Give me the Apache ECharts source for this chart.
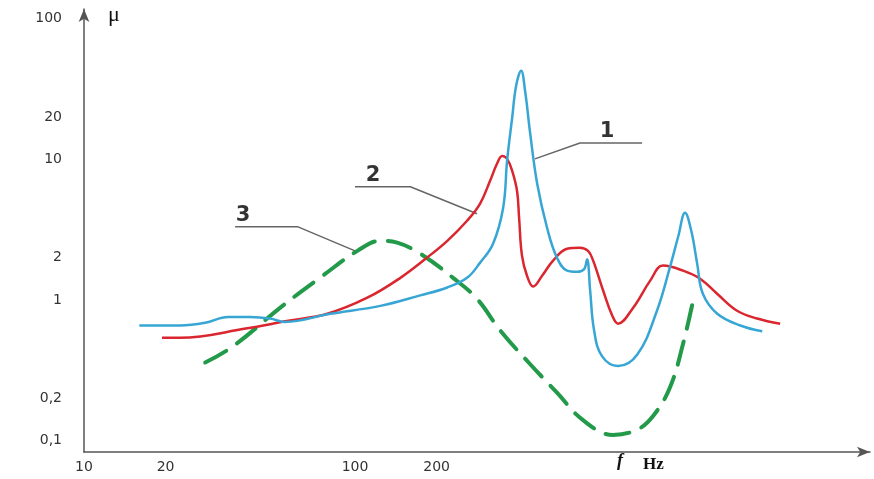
<!DOCTYPE html>
<html>
<head>
<meta charset="utf-8">
<title>μ(f)</title>
<script src="https://cdn.jsdelivr.net/npm/echarts@6/dist/echarts.min.js"></script>
<style>
  html, body { margin: 0; padding: 0; background: #fff; }
  #chart { width: 874px; height: 479px; }
</style>
</head>
<body>
<div id="chart"></div>
<script>
// tick labels (log-log axes)
const xTicks = [10, 20, 100, 200]
const yTicks = [0.1, 0.2, 1, 2, 10, 20, 100]
const yTickLabels = ['0,1', '0,2', '1', '2', '10', '20', '100']

// curve 1 (blue)
const f1 = [16, 22.6, 28, 34, 41, 48.6, 55, 81, 124, 174, 219, 259, 289, 323, 352, 364, 380, 393, 410, 424, 443, 470, 511, 556, 606, 660, 700, 718, 737, 762, 815, 934, 1100, 1300, 1450, 1560, 1650, 1740, 1830, 1920, 2170, 2640, 3180]
const mu1 = [0.66, 0.66, 0.69, 0.76, 0.76, 0.74, 0.70, 0.80, 0.91, 1.08, 1.23, 1.44, 1.84, 2.52, 4.54, 9.8, 19.8, 33.4, 42.7, 30.8, 15.2, 6.72, 3.27, 2.0, 1.62, 1.59, 1.66, 1.95, 1.17, 0.61, 0.40, 0.34, 0.41, 0.84, 1.70, 2.87, 4.18, 3.11, 1.81, 1.11, 0.80, 0.66, 0.60]

// curve 2 (red)
const f2 = [19.4, 22.6, 40, 56, 79, 111, 147, 184, 219, 259, 289, 315, 334, 349, 364, 380, 396, 403, 413, 431, 454, 490, 538, 606, 676, 724, 756, 823, 888, 934, 1061, 1226, 1369, 1623, 1875, 2167, 2568, 3043, 3702]
const mu2 = [0.54, 0.54, 0.63, 0.71, 0.80, 1.04, 1.44, 2.00, 2.64, 3.67, 4.84, 7.06, 9.32, 10.6, 10.1, 8.3, 5.99, 3.85, 2.07, 1.49, 1.25, 1.49, 1.91, 2.32, 2.36, 2.24, 1.91, 1.17, 0.78, 0.68, 0.88, 1.37, 1.76, 1.62, 1.42, 1.11, 0.84, 0.74, 0.68]

// curve 3 (green, dashed)
const f3 = [28, 35.5, 54, 76, 102, 124, 143, 174, 230, 282, 343, 443, 556, 694, 895, 1098, 1258, 1453, 1623, 1767]
const mu3 = [0.36, 0.47, 0.91, 1.49, 2.24, 2.64, 2.56, 2.14, 1.44, 1.02, 0.61, 0.35, 0.22, 0.14, 0.11, 0.12, 0.15, 0.24, 0.49, 0.99]

// leader lines for the curve numbers
const lead1F = [461, 676, 1146]
const lead1Mu = [10.1, 13.1, 13.1]
const lead2F = [100, 160, 282]
const lead2Mu = [6.4, 6.4, 4.11]
const lead3F = [36.1, 61.6, 100]
const lead3Mu = [3.32, 3.32, 2.24]

// where the numbers sit
const tagNames = ['1', '2', '3']
const tagF = [851, 116.5, 38.6]
const tagMu = [13.1, 6.4, 3.32]

const toPts = (fs, ms) => fs.map((f, i) => [Math.log10(f), Math.log10(ms[i])])

const tickLabel = (ticks, labels) => v => {
  const i = ticks.findIndex(t => Math.abs(Math.log10(t) - v) < 1e-6)
  return i < 0 ? '' : labels[i]
}

const leader = (fs, ms) => ({
  type: 'line',
  silent: true,
  symbol: 'none',
  lineStyle: { color: '#666', width: 1.5 },
  data: toPts(fs, ms),
  z: 1
})

const myChart = echarts.init(document.getElementById('chart'))
const option = {
  animation: false,
  grid: { left: 84, right: 4, top: 9, bottom: 27 },
  xAxis: {
    type: 'value',
    min: 1,
    max: 3.9,
    splitLine: { show: false },
    axisTick: { show: false },
    axisLine: {
      onZero: false,
      lineStyle: { color: '#555', width: 1.5 },
      symbol: ['none', 'arrow'], symbolSize: [8, 13]
    },
    axisLabel: {
      customValues: xTicks.map(t => Math.log10(t)),
      formatter: tickLabel(xTicks, xTicks.map(String)),
      color: '#333', fontFamily: 'DejaVu Sans', fontSize: 14, margin: 8
    }
  },
  yAxis: {
    type: 'value',
    min: -1.08,
    max: 2.07,
    splitLine: { show: false },
    axisTick: { show: false },
    axisLine: {
      onZero: false,
      lineStyle: { color: '#555', width: 1.5 },
      symbol: ['none', 'arrow'], symbolSize: [8, 13]
    },
    axisLabel: {
      customValues: yTicks.map(t => Math.log10(t)),
      formatter: tickLabel(yTicks, yTickLabels),
      color: '#333', fontFamily: 'DejaVu Sans', fontSize: 14, margin: 22
    }
  },
  graphic: [
    { type: 'text', left: 108, top: 4, style: { text: 'μ', font: '22px "Liberation Serif"', fill: '#111' } },
    { type: 'text', left: 617, top: 452, style: { text: 'f', font: 'italic bold 18px "Liberation Serif"', fill: '#111' } },
    { type: 'text', left: 643, top: 456, style: { text: 'Hz', font: 'bold 17px "Liberation Serif"', fill: '#111' } }
  ],
  series: [
    leader(lead1F, lead1Mu),
    leader(lead2F, lead2Mu),
    leader(lead3F, lead3Mu),
    {
      type: 'scatter',
      silent: true,
      symbol: 'circle',
      symbolSize: 2,
      itemStyle: { color: 'rgba(0,0,0,0)' },
      label: {
        show: true, position: 'top', distance: 0,
        formatter: p => tagNames[p.dataIndex],
        fontFamily: 'DejaVu Sans', fontWeight: 'bold', fontSize: 21, color: '#000',
        textBorderWidth: 0
      },
      data: toPts(tagF, tagMu)
    },
    {
      name: '3', type: 'line', smooth: 0.4, symbol: 'none',
      lineStyle: { color: '#229a4a', width: 4, type: [24, 13], cap: 'round' },
      data: toPts(f3, mu3), z: 2
    },
    {
      name: '2', type: 'line', smooth: 0.4, symbol: 'none',
      lineStyle: { color: '#d9262f', width: 2.5 },
      data: toPts(f2, mu2), z: 3
    },
    {
      name: '1', type: 'line', smooth: 0.4, symbol: 'none',
      lineStyle: { color: '#37a6d4', width: 2.5 },
      data: toPts(f1, mu1), z: 4
    }
  ]
}
myChart.setOption(option)

window.addEventListener('resize', () => {
  myChart.resize()
})
</script>
</body>
</html>
